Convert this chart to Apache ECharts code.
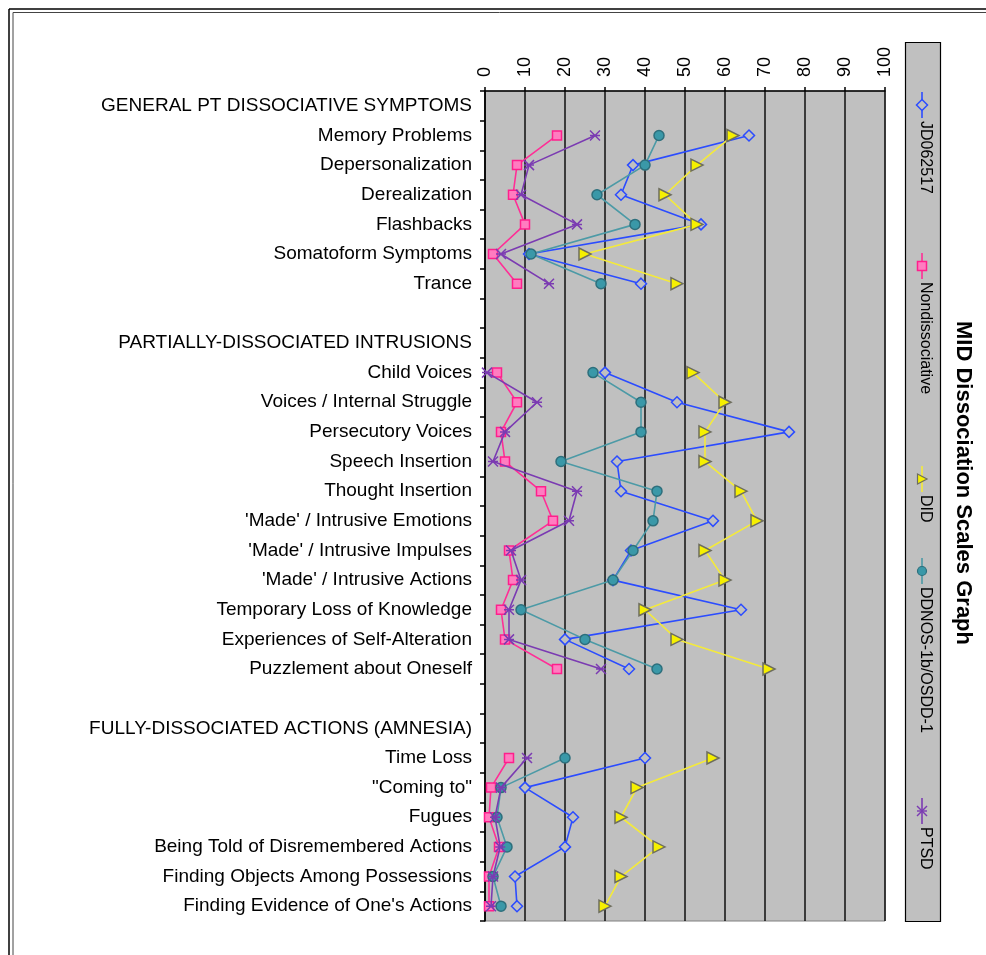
<!DOCTYPE html>
<html>
<head>
<meta charset="utf-8">
<script src="https://cdn.jsdelivr.net/npm/echarts@6/dist/echarts.min.js"></script>
<style>
html,body{margin:0;padding:0;background:#fff;}
#chart{width:986px;height:955px;}
</style>
</head>
<body>
<div id="chart"></div>
<script>
var categories = [
  "GENERAL PT DISSOCIATIVE SYMPTOMS",
  "Memory Problems",
  "Depersonalization",
  "Derealization",
  "Flashbacks",
  "Somatoform Symptoms",
  "Trance",
  "",
  "PARTIALLY-DISSOCIATED INTRUSIONS",
  "Child Voices",
  "Voices / Internal Struggle",
  "Persecutory Voices",
  "Speech Insertion",
  "Thought Insertion",
  "'Made' / Intrusive Emotions",
  "'Made' / Intrusive Impulses",
  "'Made' / Intrusive Actions",
  "Temporary Loss of Knowledge",
  "Experiences of Self-Alteration",
  "Puzzlement about Oneself",
  " ",
  "FULLY-DISSOCIATED ACTIONS (AMNESIA)",
  "Time Loss",
  "\"Coming to\"",
  "Fugues",
  "Being Told of Disremembered Actions",
  "Finding Objects Among Possessions",
  "Finding Evidence of One's Actions"
];
var seriesNames = ["JD062517", "Nondissociative", "DID", "DDNOS-1b/OSDD-1", "PTSD"];
var jd062517 = [null, 66, 37, 34, 54, 11, 39, null, null, 30, 48, 76, 33, 34, 57, 36.5, 32, 64, 20, 36, null, null, 40, 10, 22, 20, 7.5, 8];
var nondissociative = [null, 18, 8, 7, 10, 2, 8, null, null, 3, 8, 4, 5, 14, 17, 6, 7, 4, 5, 18, null, null, 6, 1.5, 1, 3.5, 1, 1];
var did = [null, 62, 53, 45, 53, 25, 48, null, null, 52, 60, 55, 55, 64, 68, 55, 60, 40, 48, 71, null, null, 57, 38, 34, 43.5, 34, 30];
var ddnos = [null, 43.5, 40, 28, 37.5, 11.5, 29, null, null, 27, 39, 39, 19, 43, 42, 37, 32, 9, 25, 43, null, null, 20, 4, 3, 5.5, 2, 4];
var ptsd = [null, 27.5, 11, 9, 23, 4, 16, null, null, 0.5, 13, 5, 2, 23, 21, 6.5, 9, 6, 6, 29, null, null, 10.5, 4, 2.5, 3.8, 2, 1.5];
var xTicks = [0, 10, 20, 30, 40, 50, 60, 70, 80, 90, 100];

var FONT = "Liberation Sans, Arial, sans-serif";
var starPath = 'path://M0,0L10,10M10,0L0,10M0,5L10,5';

var styles = [
  {line:'#2B4CFF', symbol:'diamond', size:11, fill:'#C0C0C0', border:'#2B4CFF', rot:0},
  {line:'#FF2E96', symbol:'rect', size:9, fill:'#FF7CC0', border:'#FF1F8C', rot:0},
  {line:'#F4EA3A', symbol:'triangle', size:12, fill:'#F6F000', border:'#6E6E5E', rot:-90},
  {line:'#4C9AA6', symbol:'circle', size:10, fill:'#3A98A8', border:'#2D6F7C', rot:0},
  {line:'#7B3BB2', symbol:starPath, size:10, fill:'#7B3BB2', border:'#7B3BB2', rot:0}
];
var dataArrays = [jd062517, nondissociative, did, ddnos, ptsd];

var series = dataArrays.map(function(arr, i){
  var s = styles[i];
  return {
    name: seriesNames[i],
    type: 'line',
    data: arr,
    connectNulls: false,
    symbol: s.symbol,
    symbolSize: s.size,
    symbolRotate: s.rot,
    showAllSymbol: true,
    lineStyle: {color: s.line, width: 1.6},
    itemStyle: {color: s.fill, borderColor: s.border, borderWidth: 1.5},
    emphasis: {disabled: true},
    animation: false,
    z: 3 + i
  };
});

// legend built as rotated graphic items
var legendX = 922;
var legendStarts = [92, 253, 466, 558, 798];
var graphics = [];
// outer frame
graphics.push({type:'line', shape:{x1:9, y1:9, x2:986, y2:9}, style:{stroke:'#000', lineWidth:1.5}, silent:true});
graphics.push({type:'line', shape:{x1:13, y1:12.5, x2:986, y2:12.5}, style:{stroke:'#444', lineWidth:1}, silent:true});
graphics.push({type:'line', shape:{x1:9, y1:9, x2:9, y2:955}, style:{stroke:'#000', lineWidth:1.5}, silent:true});
graphics.push({type:'line', shape:{x1:13, y1:12.5, x2:13, y2:955}, style:{stroke:'#444', lineWidth:1}, silent:true});
// legend box
graphics.push({type:'rect', shape:{x:905.5, y:42.5, width:35, height:879}, style:{fill:'#C0C0C0', stroke:'#000', lineWidth:1.2}, silent:true});
legendStarts.forEach(function(y0, i){
  var s = styles[i];
  var mid = y0 + 13;
  graphics.push({type:'line', shape:{x1:legendX, y1:y0, x2:legendX, y2:y0+26}, style:{stroke:s.line, lineWidth:1.6}, silent:true, z:10});
  var m;
  if (i === 0) {
    m = {type:'polygon', shape:{points:[[legendX, mid-5.5],[legendX+5.5, mid],[legendX, mid+5.5],[legendX-5.5, mid]]}, style:{fill:s.fill, stroke:s.border, lineWidth:1.5}};
  } else if (i === 1) {
    m = {type:'rect', shape:{x:legendX-4.5, y:mid-4.5, width:9, height:9}, style:{fill:s.fill, stroke:s.border, lineWidth:1.5}};
  } else if (i === 2) {
    m = {type:'polygon', shape:{points:[[legendX-4.5, mid-5],[legendX+5, mid],[legendX-4.5, mid+5]]}, style:{fill:s.fill, stroke:s.border, lineWidth:1.2}};
  } else if (i === 3) {
    m = {type:'circle', shape:{cx:legendX, cy:mid, r:4.5}, style:{fill:s.fill, stroke:s.border, lineWidth:1.2}};
  } else {
    m = {type:'polyline', shape:{points:[[legendX-5, mid-5],[legendX+5, mid+5]]}, style:{stroke:s.border, lineWidth:1.4, fill:null}};
    graphics.push({type:'polyline', shape:{points:[[legendX+5, mid-5],[legendX-5, mid+5]]}, style:{stroke:s.border, lineWidth:1.4, fill:null}, silent:true, z:11});
    graphics.push({type:'polyline', shape:{points:[[legendX-5, mid],[legendX+5, mid]]}, style:{stroke:s.border, lineWidth:1.4, fill:null}, silent:true, z:11});
  }
  m.silent = true; m.z = 11;
  graphics.push(m);
  graphics.push({
    type:'text', x: legendX + 3, y: y0 + 29, rotation: -Math.PI/2, silent:true, z:11,
    style:{text: seriesNames[i], fill:'#000', font: '16px ' + FONT, textAlign:'left', textVerticalAlign:'middle'}
  });
});
// title
graphics.push({
  type:'text', x: 963, y: 483, rotation: -Math.PI/2, silent:true,
  style:{text:'MID Dissociation Scales Graph', fill:'#000', font:'bold 22px ' + FONT, textAlign:'center', textVerticalAlign:'middle'}
});

var chart = echarts.init(document.getElementById('chart'), null, {renderer:'canvas'});
chart.setOption({
  animation: false,
  backgroundColor: '#fff',
  grid: {left: 485, right: 101, top: 91, bottom: 34, show: true, backgroundColor: '#C0C0C0', borderColor: '#808080', borderWidth: 1},
  xAxis: {
    type: 'value', position: 'top', min: 0, max: 100, interval: 10,
    axisLine: {show: true, lineStyle: {color: '#000', width: 1.5}},
    axisTick: {show: true, length: 4, lineStyle: {color: '#000', width: 1.5}},
    splitLine: {show: true, lineStyle: {color: '#1a1a1a', width: 1.6}},
    axisLabel: {rotate: -90, margin: 14, color: '#000', fontSize: 18, fontFamily: FONT,
      formatter: function(v){ return xTicks.indexOf(v) >= 0 ? String(v) : ''; }}
  },
  yAxis: {
    type: 'category', data: categories, inverse: true, boundaryGap: true,
    axisLine: {show: true, lineStyle: {color: '#000', width: 1.5}},
    axisTick: {show: true, length: 5, inside: false, lineStyle: {color: '#000', width: 1.5}},
    splitLine: {show: false},
    axisLabel: {interval: 0, margin: 13, color: '#000', fontSize: 19, fontFamily: FONT, padding: [4, 0, 0, 0]}
  },
  legend: {show: false},
  tooltip: {show: false},
  series: series,
  graphic: graphics
});
</script>
</body>
</html>
